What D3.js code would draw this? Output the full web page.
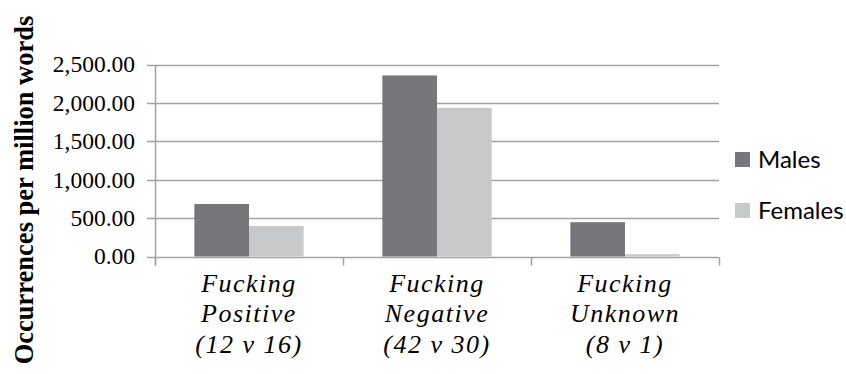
<!DOCTYPE html>
<html>
<head>
<meta charset="utf-8">
<script src="https://cdn.jsdelivr.net/npm/d3@7"></script>
</head>
<body style="margin:0">
<svg id="chart" width="846" height="374" style="font-family: 'Liberation Serif'"></svg>
<script>
// Occurrences per million words, by sex, for each usage of "fucking"
const categories = [
  ["Fucking", "Positive", "(12 v 16)"],
  ["Fucking", "Negative", "(42 v 30)"],
  ["Fucking", "Unknown", "(8 v 1)"]
];
const seriesNames = ["Males", "Females"];
const males   = [684, 2357, 447];
const females = [397, 1935, 30];
const yTicks  = [0, 500, 1000, 1500, 2000, 2500];
const colors  = ["#77777b", "#c8c9cb"];

const SERIF = "Liberation Serif";
const LEGEND_FONT = "Lato";

const svg = d3.select("#chart");
const W = 846, H = 374;
const margin = { left: 155, right: 127, top: 64.5, bottom: 117.5 };
const plotW = W - margin.left - margin.right;
const plotH = H - margin.top - margin.bottom;
const gridColor = "#a3a3a3";

const x0 = d3.scaleBand().domain(d3.range(categories.length)).range([margin.left, margin.left + plotW]);
const x1 = d3.scaleBand().domain(seriesNames).range([0, x0.bandwidth()]).paddingOuter(0.72);
const y = d3.scaleLinear().domain([0, 2500]).range([margin.top + plotH, margin.top]);
const yr = v => Math.round(y(v)) + 0.5;

// y axis title
svg.append("text")
  .attr("transform", `translate(33,${(14 + 366) / 2}) rotate(-90)`)
  .attr("text-anchor", "middle")
  .style("font-family", SERIF)
  .style("font-weight", "bold")
  .style("font-size", "26.5px")
  .attr("fill", "#000")
  .text("Occurrences per million words");

// y tick labels
const fmt = d3.format(",.2f");
svg.selectAll(".ylab").data(yTicks).join("text")
  .attr("class", "ylab")
  .attr("x", margin.left - 20)
  .attr("y", d => y(d))
  .attr("dy", "0.34em")
  .attr("text-anchor", "end")
  .style("font-family", SERIF)
  .style("font-size", "23.5px")
  .attr("fill", "#000")
  .text(fmt);

// category labels
const labels = svg.selectAll(".xl").data(categories.map((c, i) => ({ c, i }))).join("text")
  .attr("class", "xl")
  .attr("x", d => x0(d.i) + x0.bandwidth() / 2)
  .attr("y", margin.top + plotH + 35)
  .attr("text-anchor", "middle")
  .style("font-family", SERIF)
  .style("font-style", "italic")
  .style("font-size", "26px")
  .style("letter-spacing", "1.5px")
  .attr("fill", "#000");
labels.selectAll("tspan").data(d => d.c).join("tspan")
  .attr("x", function () { return d3.select(this.parentNode).attr("x"); })
  .attr("dy", (d, i) => i === 0 ? 0 : 30.5)
  .text(d => d);

// legend
seriesNames.forEach((name, i) => {
  svg.append("rect").attr("x", 735).attr("y", 152 + i * 51).attr("width", 15).attr("height", 15)
    .attr("fill", colors[i]);
  svg.append("text").attr("x", 758).attr("y", 168 + i * 51)
    .style("font-family", LEGEND_FONT)
    .style("font-size", "24px").attr("fill", "#000")
    .text(name);
});

// gridlines
svg.append("g").selectAll("line").data(yTicks).join("line")
  .attr("x1", margin.left).attr("x2", margin.left + plotW)
  .attr("y1", yr).attr("y2", yr)
  .attr("stroke", gridColor).attr("stroke-width", 1.5);

// y axis line and ticks
svg.append("line").attr("x1", margin.left + 0.5).attr("x2", margin.left + 0.5)
  .attr("y1", yr(2500)).attr("y2", yr(0) + 8)
  .attr("stroke", gridColor).attr("stroke-width", 1.5);
svg.append("g").selectAll("line").data(yTicks).join("line")
  .attr("x1", margin.left - 8).attr("x2", margin.left)
  .attr("y1", yr).attr("y2", yr)
  .attr("stroke", gridColor).attr("stroke-width", 1.5);

// x axis category ticks
svg.append("g").selectAll("line").data(d3.range(categories.length + 1)).join("line")
  .attr("x1", d => Math.round(margin.left + d * x0.bandwidth()) + 0.5)
  .attr("x2", d => Math.round(margin.left + d * x0.bandwidth()) + 0.5)
  .attr("y1", yr(0)).attr("y2", yr(0) + 8)
  .attr("stroke", gridColor).attr("stroke-width", 1.5);

// bars
const rows = categories.map((c, i) => ({ i, values: [males[i], females[i]] }));
svg.append("g").selectAll("g").data(rows).join("g")
  .attr("transform", d => `translate(${x0(d.i)},0)`)
  .selectAll("rect").data(d => d.values.map((v, k) => ({ v, k })))
  .join("rect")
  .attr("x", d => x1(seriesNames[d.k]))
  .attr("width", x1.bandwidth())
  .attr("y", d => y(d.v))
  .attr("height", d => y(0) - y(d.v))
  .attr("fill", d => colors[d.k]);
</script>
</body>
</html>
